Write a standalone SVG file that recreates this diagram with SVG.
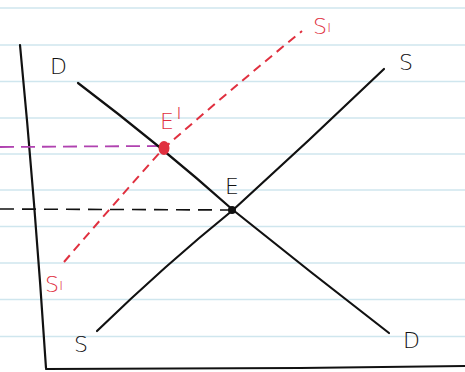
<svg xmlns="http://www.w3.org/2000/svg" width="465" height="372" viewBox="0 0 465 372">
<style>
.rule{stroke:#cfe6ee;stroke-width:1.3}
.ink{fill:none;stroke:#111;stroke-width:2.2;stroke-linecap:round}
.red{fill:none;stroke:#e0303f;stroke-width:2;stroke-dasharray:9 6}
.lbl{font-family:"DejaVu Sans","Liberation Sans",sans-serif;font-size:22px;font-weight:300}
.k{fill:#111}.r{fill:#e0303f}
</style>
<rect width="465" height="372" fill="#fff"/>
<g id="paper">
<line class="rule" x1="0" y1="8" x2="465" y2="8"/>
<line class="rule" x1="0" y1="45" x2="465" y2="45"/>
<line class="rule" x1="0" y1="81.5" x2="465" y2="81.5"/>
<line class="rule" x1="0" y1="118" x2="465" y2="118"/>
<line class="rule" x1="0" y1="154" x2="465" y2="154"/>
<line class="rule" x1="0" y1="190" x2="465" y2="190"/>
<line class="rule" x1="0" y1="226.5" x2="465" y2="226.5"/>
<line class="rule" x1="0" y1="263" x2="465" y2="263"/>
<line class="rule" x1="0" y1="299.5" x2="465" y2="299.5"/>
<line class="rule" x1="0" y1="336.5" x2="465" y2="336.5"/>
</g>
<g id="axes">
<path class="ink" d="M20,45 Q35,200 46,368"/>
<path class="ink" d="M46,369 L300,368 L465,366"/>
</g>
<g id="connectors">
<path id="guide-E" fill="none" stroke="#111" stroke-width="1.6" stroke-dasharray="14 8" d="M0,209 L230,210"/>
<path id="guide-E1" fill="none" stroke="#b042b0" stroke-width="1.8" stroke-dasharray="14 7" d="M0,147 L160,146"/>
<path id="demand" class="ink" d="M78,83 Q160,145 233,210 Q310,272 389,333"/>
<path id="supply" class="ink" d="M97,331 Q165,265 233,210 Q310,140 384,69"/>
<path id="supply1" class="red" d="M64,262 Q112,206 163,149 Q230,90 302,31"/>
</g>
<g id="node-E">
<circle cx="232" cy="210" r="4" fill="#111"/>
<text class="lbl k" x="225" y="194">E</text>
</g>
<g id="node-E1">
<ellipse cx="164" cy="148" rx="5.5" ry="7" fill="#e0303f"/>
<text class="lbl r" x="160" y="129">E</text>
<text class="lbl r" x="176" y="119" font-size="16">ı</text>
</g>
<g id="labels">
<text class="lbl k" x="50" y="74">D</text>
<text class="lbl k" x="403" y="348">D</text>
<text class="lbl k" x="399" y="70">S</text>
<text class="lbl k" x="74" y="352">S</text>
<text class="lbl r" x="313" y="34">S<tspan font-size="16" dy="-2">ı</tspan></text>
<text class="lbl r" x="45" y="292">S<tspan font-size="16" dy="-2">ı</tspan></text>
</g>
</svg>
